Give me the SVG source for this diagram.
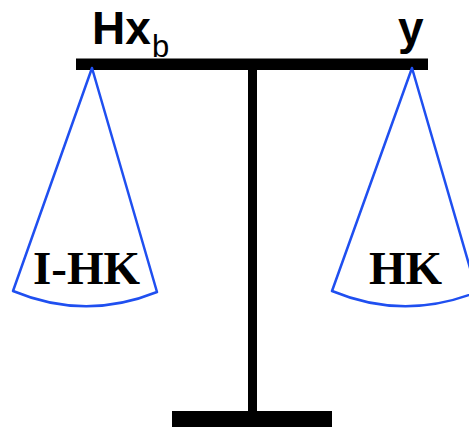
<svg xmlns="http://www.w3.org/2000/svg" width="469" height="427" viewBox="0 0 469 427">
<style>
.bar{fill:#000}
.pan{fill:none;stroke:#1f4ff0;stroke-width:2.5;stroke-linejoin:round}
.lbl{font-family:"Liberation Sans",Arial,sans-serif;font-weight:bold;font-size:46px;fill:#000}
.sub{font-family:"Liberation Sans",Arial,sans-serif;font-weight:normal;font-size:31px;fill:#000}
.pl{font-family:"Liberation Serif","Times New Roman",serif;font-weight:bold;font-size:47px;fill:#000}
</style>
<g id="scale">
<rect class="bar" x="76" y="58.5" width="352" height="11.5"/>
<rect class="bar" x="248" y="70" width="9" height="342"/>
<rect class="bar" x="172" y="411" width="160" height="16"/>
</g>
<g id="leftPan">
<path class="pan" d="M92,68 L13,291 Q85,321 157,292 Z"/>
<text class="pl" x="33" y="284">I-HK</text>
</g>
<g id="rightPan">
<path class="pan" d="M412,68 L332,291 Q404,321 477,292 Z"/>
<text class="pl" x="369" y="284">HK</text>
</g>
<g id="labels">
<text class="lbl" x="92" y="44">Hx<tspan class="sub" x="152" y="57">b</tspan></text>
<text class="lbl" x="398" y="44">y</text>
</g>
</svg>
